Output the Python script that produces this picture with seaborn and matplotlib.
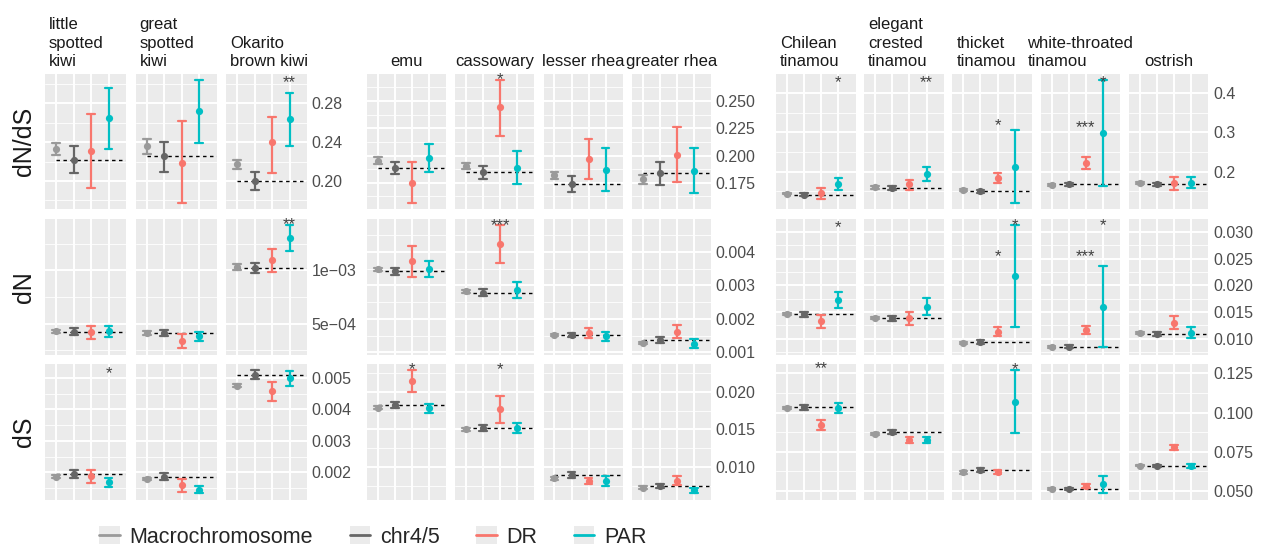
import matplotlib
matplotlib.use("Agg")
import matplotlib.pyplot as plt
import pandas as pd
import seaborn as sns
from matplotlib.lines import Line2D
from matplotlib.patches import Rectangle
from matplotlib.legend_handler import HandlerTuple
from matplotlib.ticker import MultipleLocator, AutoMinorLocator, FuncFormatter

categories = ["Macrochromosome", "chr4/5", "DR", "PAR"]
colors = ["#9A9A9A", "#666666", "#F8766D", "#00BFC4"]
metrics = ["dN/dS", "dN", "dS"]

species = ["little\nspotted\nkiwi", "great\nspotted\nkiwi", "Okarito\nbrown kiwi",
           "emu", "cassowary", "lesser rhea", "greater rhea",
           "Chilean\ntinamou", "elegant\ncrested\ntinamou", "thicket\ntinamou",
           "white-throated\ntinamou", "ostrish"]
groups = [[0, 1, 2], [3, 4, 5, 6], [7, 8, 9, 10, 11]]

# rows = species, columns = categories
dnds_est = [
    [0.2332, 0.2221, 0.2311, 0.2650], [0.2360, 0.2253, 0.2190, 0.2723],
    [0.2173, 0.2000, 0.2401, 0.2637], [0.1954, 0.1886, 0.1750, 0.1979],
    [0.1908, 0.1846, 0.2444, 0.1886], [0.1818, 0.1738, 0.1970, 0.1871],
    [0.1781, 0.1837, 0.2007, 0.1858], [0.1438, 0.1413, 0.1447, 0.1694],
    [0.1600, 0.1583, 0.1677, 0.1949], [0.1523, 0.1498, 0.1847, 0.2119],
    [0.1668, 0.1677, 0.2230, 0.2987], [0.1702, 0.1677, 0.1702, 0.1719],
]
dnds_lo = [
    [0.2270, 0.2083, 0.1924, 0.2329], [0.2280, 0.2097, 0.1768, 0.2394],
    [0.2121, 0.1907, 0.2080, 0.2360], [0.1920, 0.1827, 0.1561, 0.1846],
    [0.1880, 0.1781, 0.2181, 0.1738], [0.1781, 0.1663, 0.1787, 0.1673],
    [0.1741, 0.1728, 0.1753, 0.1654], [0.1421, 0.1379, 0.1311, 0.1540],
    [0.1566, 0.1540, 0.1532, 0.1770], [0.1498, 0.1455, 0.1719, 0.1192],
    [0.1643, 0.1634, 0.2077, 0.1626], [0.1677, 0.1643, 0.1532, 0.1574],
]
dnds_hi = [
    [0.2395, 0.2360, 0.2692, 0.2965], [0.2433, 0.2398, 0.2616, 0.3041],
    [0.2221, 0.2093, 0.2657, 0.2913], [0.1989, 0.1945, 0.1936, 0.2106],
    [0.1933, 0.1908, 0.2692, 0.2041], [0.1852, 0.1809, 0.2153, 0.2066],
    [0.1821, 0.1936, 0.2258, 0.2066], [0.1455, 0.1447, 0.1574, 0.1830],
    [0.1634, 0.1626, 0.1796, 0.2119], [0.1549, 0.1540, 0.1966, 0.3055],
    [0.1694, 0.1719, 0.2366, 0.4323], [0.1728, 0.1711, 0.1855, 0.1855],
]

dn_est = [
    [4.29e-4, 4.25e-4, 4.19e-4, 4.32e-4], [4.13e-4, 4.16e-4, 3.35e-4, 3.85e-4],
    [1.031e-3, 1.022e-3, 1.093e-3, 1.301e-3], [0.003478, 0.003418, 0.003726, 0.003498],
    [0.002831, 0.002781, 0.004244, 0.002851], [0.001517, 0.001517, 0.001577, 0.001488],
    [0.001279, 0.001368, 0.001617, 0.001259], [0.01467, 0.01455, 0.01324, 0.01729],
    [0.01380, 0.01380, 0.01380, 0.01598], [0.00925, 0.00938, 0.01131, 0.02171],
    [0.00844, 0.00850, 0.01168, 0.01592], [0.01112, 0.01087, 0.01299, 0.01112],
]
dn_lo = [
    [4.16e-4, 3.94e-4, 3.60e-4, 3.79e-4], [3.94e-4, 3.85e-4, 2.70e-4, 3.42e-4],
    [1.006e-3, 0.972e-3, 0.988e-3, 1.180e-3], [0.003428, 0.003308, 0.003249, 0.003239],
    [0.002781, 0.002672, 0.003677, 0.002612], [0.001478, 0.001448, 0.001438, 0.001348],
    [0.001239, 0.001279, 0.001418, 0.001119], [0.01449, 0.01411, 0.01206, 0.01579],
    [0.01361, 0.01336, 0.01249, 0.01436], [0.00907, 0.00900, 0.01050, 0.01218],
    [0.00826, 0.00819, 0.01093, 0.00844], [0.01093, 0.01056, 0.01181, 0.01012],
]
dn_hi = [
    [4.41e-4, 4.57e-4, 4.78e-4, 4.81e-4], [4.32e-4, 4.44e-4, 4.01e-4, 4.25e-4],
    [1.056e-3, 1.068e-3, 1.196e-3, 1.422e-3], [0.003527, 0.003517, 0.004184, 0.003736],
    [0.002871, 0.002891, 0.004801, 0.003090], [0.001557, 0.001587, 0.001716, 0.001607],
    [0.001318, 0.001458, 0.001806, 0.001388], [0.01486, 0.01498, 0.01442, 0.01878],
    [0.01399, 0.01424, 0.01498, 0.01754], [0.00944, 0.00975, 0.01212, 0.03124],
    [0.00863, 0.00882, 0.01243, 0.02352], [0.01131, 0.01118, 0.01417, 0.01212],
]

ds_est = [
    [0.001862, 0.001947, 0.001872, 0.001681], [0.001787, 0.001862, 0.001585, 0.001447],
    [0.004755, 0.005106, 0.004574, 0.004989], [0.01788, 0.01823, 0.02146, 0.01779],
    [0.01500, 0.01518, 0.01765, 0.01518], [0.00845, 0.00889, 0.00805, 0.00810],
    [0.00721, 0.00748, 0.00814, 0.00686], [0.1027, 0.1033, 0.0923, 0.1029],
    [0.0863, 0.0876, 0.0827, 0.0823], [0.0619, 0.0634, 0.0623, 0.1071],
    [0.0513, 0.0515, 0.0532, 0.0545], [0.0661, 0.0657, 0.0778, 0.0657],
]
ds_lo = [
    [0.001819, 0.001819, 0.001649, 0.001532], [0.001745, 0.001745, 0.001372, 0.001330],
    [0.004702, 0.004968, 0.004277, 0.004745], [0.01770, 0.01783, 0.01996, 0.01717],
    [0.01482, 0.01482, 0.01588, 0.01456], [0.00827, 0.00845, 0.00770, 0.00739],
    [0.00704, 0.00721, 0.00752, 0.00646], [0.1020, 0.1016, 0.0891, 0.0995],
    [0.0857, 0.0863, 0.0808, 0.0804], [0.0610, 0.0621, 0.0608, 0.0872],
    [0.0506, 0.0508, 0.0519, 0.0485], [0.0657, 0.0651, 0.0761, 0.0644],
]
ds_hi = [
    [0.001904, 0.002074, 0.002085, 0.001809], [0.001830, 0.001979, 0.001777, 0.001564],
    [0.004809, 0.005245, 0.004883, 0.005213], [0.01805, 0.01863, 0.02288, 0.01836],
    [0.01518, 0.01553, 0.01942, 0.01580], [0.00863, 0.00934, 0.00845, 0.00881],
    [0.00739, 0.00774, 0.00872, 0.00721], [0.1033, 0.1050, 0.0955, 0.1061],
    [0.0870, 0.0889, 0.0846, 0.0842], [0.0627, 0.0647, 0.0636, 0.1271],
    [0.0519, 0.0521, 0.0545, 0.0598], [0.0666, 0.0664, 0.0795, 0.0670],
]

# significance marks: metric index, species index, category index, label, height
star_metric = [0, 0, 0, 0, 0, 0, 0, 1, 1, 1, 1, 1, 1, 1, 2, 2, 2, 2, 2]
star_species = [2, 4, 7, 8, 9, 10, 10, 2, 4, 7, 9, 9, 10, 10, 0, 3, 4, 7, 9]
star_cat = [3, 2, 3, 3, 2, 2, 3, 3, 2, 3, 2, 3, 2, 3, 3, 2, 2, 2, 3]
star_label = ["**", "*", "*", "**", "*", "***", "*", "**", "***", "*", "*", "*", "***", "*",
              "*", "*", "*", "**", "*"]
star_y = [0.3059, 0.2738, 0.4383, 0.4383, 0.3277, 0.3242, 0.4383,
          1.469e-3, 0.00492, 0.03156, 0.02614, 0.03206, 0.02614, 0.03206,
          0.005287, 0.02354, 0.02354, 0.1307, 0.1303]

est = [dnds_est, dn_est, ds_est]
low = [dnds_lo, dn_lo, ds_lo]
high = [dnds_hi, dn_hi, ds_hi]

# long table: lower, estimate, upper per point -> median / min-max in pointplot
rows = []
for m in range(3):
    for s in range(len(species)):
        for c, cat in enumerate(categories):
            for v in (low[m][s][c], est[m][s][c], high[m][s][c]):
                rows.append({"metric": m, "species": s, "category": cat, "value": v})
df = pd.DataFrame(rows)

sns.set_theme(style="darkgrid", rc={"axes.facecolor": "#EBEBEB", "figure.facecolor": "white"})
plt.rcParams["font.family"] = ["Liberation Sans", "DejaVu Sans"]

W, H = 1270, 547
fig = plt.figure(figsize=(W / 100, H / 100), dpi=100)

group_x0 = [45, 367, 776]
group_step = [90.5, 88.3, 88.2]
panel_w = [81, 79, 79.5]
row_top = [74, 219, 364]
panel_h = 135.5
xlo, xhi = -0.64, 4.0

steps = [[0.04, 0.025, 0.1], [5e-4, 1e-3, 0.005], [1e-3, 0.005, 0.025]]
fmts = [["%.2f", "%.3f", "%.1f"], ["sci", "%.3f", "%.3f"], ["%.3f", "%.3f", "%.3f"]]


def make_fmt(f):
    if f == "sci":
        return FuncFormatter(lambda v, p: f"{v:.0e}".replace("-", "\u2212"))
    return FuncFormatter(lambda v, p: f % v)


for m in range(3):
    for g, members in enumerate(groups):
        lo_all = [low[m][s][c] for s in members for c in range(4)]
        hi_all = [high[m][s][c] for s in members for c in range(4)]
        pad = 0.05 * (max(hi_all) - min(lo_all))
        ylim = (min(lo_all) - pad, max(hi_all) + pad)
        for i, s in enumerate(members):
            left = group_x0[g] + i * group_step[g]
            ax = fig.add_axes([left / W, 1 - (row_top[m] + panel_h) / H,
                               panel_w[g] / W, panel_h / H])
            sub = df[(df["metric"] == m) & (df["species"] == s)]
            sns.pointplot(data=sub, x="category", y="value", hue="category",
                          order=categories, hue_order=categories, palette=colors,
                          estimator="median", errorbar=lambda v: (v.min(), v.max()),
                          capsize=0.45, linestyle="none", markers="o",
                          markersize=5.2, markeredgewidth=0,
                          err_kws={"linewidth": 1.6}, legend=False, ax=ax)
            ax.set_xlim(xlo, xhi)
            ax.set_ylim(*ylim)
            ax.set_xlabel("")
            ax.set_ylabel("")
            ax.set_xticks(range(4))
            ax.set_xticklabels([])
            ax.yaxis.set_major_locator(MultipleLocator(steps[m][g]))
            ax.yaxis.set_minor_locator(AutoMinorLocator(2))
            ax.yaxis.set_major_formatter(make_fmt(fmts[m][g]))
            ax.grid(True, which="major", color="white", linewidth=1.4)
            ax.grid(True, which="minor", axis="y", color="white", linewidth=0.6)
            ax.set_axisbelow(True)
            for sp in ax.spines.values():
                sp.set_visible(False)
            ax.tick_params(axis="both", which="both", length=0)
            last = i == len(members) - 1
            ax.yaxis.set_ticks_position("right")
            ax.tick_params(axis="y", labelleft=False, labelright=last, pad=3.5,
                           labelsize=11.5, labelcolor="#4D4D4D")

            # reference line at chr4/5 estimate
            ref = est[m][s][1]
            ax.axhline(ref, xmin=(0 - xlo) / (xhi - xlo), xmax=1, color="black",
                       linestyle=(0, (2.5, 2.5)), linewidth=1.0, zorder=1.5)

            for k in range(len(star_y)):
                if star_metric[k] == m and star_species[k] == s:
                    ax.annotate(star_label[k], xy=(star_cat[k], star_y[k]),
                                xytext=(0, -6.5), textcoords="offset points",
                                ha="center", va="baseline", fontsize=12,
                                color="#404040", annotation_clip=False)

            if m == 0:
                name = species[s]
                widest = max(len(line) for line in name.split("\n"))
                if "\n" in name and widest <= 10:
                    ax.annotate(name, xy=(0.05, 1), xycoords="axes fraction",
                                xytext=(0, 3.5), textcoords="offset points",
                                ha="left", va="bottom", multialignment="left",
                                linespacing=1.3, fontsize=12, color="#1A1A1A")
                else:
                    # single line, or a line wider than the panel: centre it
                    ax.annotate(name, xy=(0.5, 1), xycoords="axes fraction",
                                xytext=(0, 3.5), textcoords="offset points",
                                ha="center", va="bottom", multialignment="left",
                                linespacing=1.3, fontsize=12, color="#1A1A1A")

for m, name in enumerate(metrics):
    yc = 1 - (row_top[m] + panel_h / 2) / H
    fig.text(24.5 / W, yc, name, rotation=90, ha="center", va="center",
             fontsize=18, color="#1A1A1A")

handles = [(Rectangle((0, 0), 1, 1, facecolor="#EBEBEB", edgecolor="none"),
            Line2D([], [], color=c, linewidth=2)) for c in colors]
fig.legend(handles, categories, handler_map={tuple: HandlerTuple(ndivide=1, pad=0)},
           loc="center", bbox_to_anchor=(373 / W, 1 - 537 / H), ncol=4,
           frameon=False, fontsize=15.5, handlelength=0.95, handleheight=0.85,
           handletextpad=0.45, columnspacing=1.7)

fig.savefig("out.png", dpi=100)
